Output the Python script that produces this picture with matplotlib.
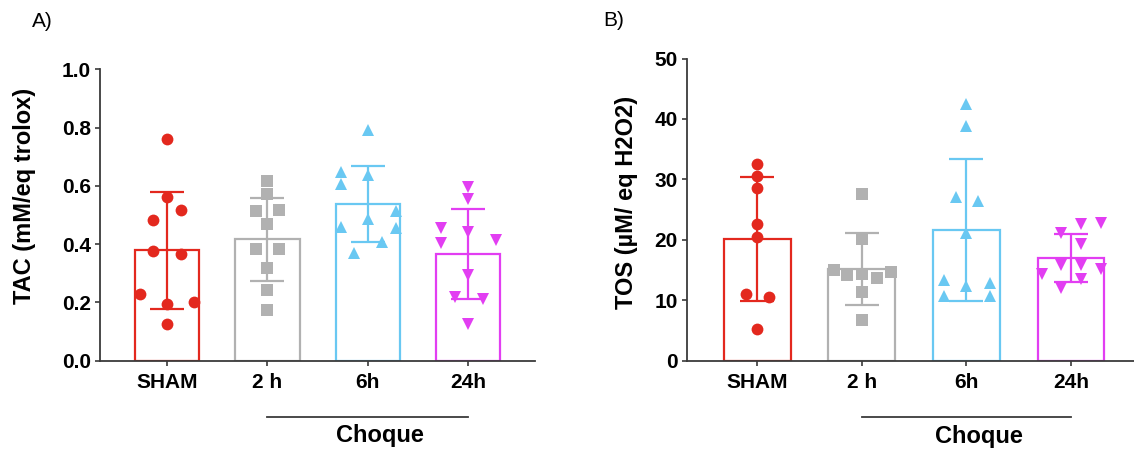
import matplotlib
matplotlib.use("Agg")
import matplotlib.pyplot as plt
import matplotlib.transforms as mtransforms

plt.rcParams['font.family'] = ['Liberation Sans', 'DejaVu Sans']

groups = ["SHAM", "2 h", "6h", "24h"]
colors = ['#e3281e', '#b1b1b1', '#69c8f2', '#e23ef2']
markers = ['o', 's', '^', 'v']

# TAC (mM/eq trolox) - individual points per group
tac_sham = [0.762, 0.562, 0.517, 0.483, 0.378, 0.367, 0.229, 0.193, 0.201, 0.125]
tac_2h = [0.618, 0.572, 0.515, 0.517, 0.469, 0.384, 0.382, 0.317, 0.243, 0.174]
tac_6h = [0.792, 0.649, 0.637, 0.606, 0.514, 0.486, 0.460, 0.454, 0.406, 0.371]
tac_24h = [0.597, 0.554, 0.457, 0.443, 0.405, 0.414, 0.294, 0.217, 0.211, 0.126]
tac_mean = [0.379, 0.416, 0.537, 0.366]
tac_sd = [0.200, 0.144, 0.130, 0.155]

# TOS (uM/ eq H2O2)
tos_sham = [32.6, 30.6, 28.6, 22.7, 20.5, 11.1, 10.6, 5.2]
tos_2h = [27.6, 20.2, 15.0, 14.2, 14.4, 13.7, 14.6, 11.3, 6.7]
tos_6h = [42.4, 38.9, 27.1, 26.5, 21.1, 13.3, 12.3, 12.8, 10.7, 10.7]
tos_24h = [22.8, 22.7, 21.2, 19.3, 15.8, 15.8, 14.4, 15.2, 13.6, 12.1]
tos_mean = [20.1, 15.2, 21.6, 17.0]
tos_sd = [10.25, 5.9, 11.8, 3.9]

# horizontal scatter offsets (layout of the dot plot)
tac_dx = [
    [0, 0, 0.14, -0.135, -0.135, 0.14, -0.27, 0, 0.273, 0],
    [0, 0, -0.113, 0.113, 0, -0.113, 0.113, 0, 0, 0],
    [0, -0.266, 0, -0.266, 0.277, 0, -0.266, 0.277, 0.142, -0.135],
    [0, 0, -0.27, 0, -0.27, 0.277, 0, -0.135, 0.142, 0],
]
tos_dx = [
    [0, 0, 0, 0, 0, -0.11, 0.11, 0],
    [0, 0, -0.265, -0.138, 0, 0.145, 0.276, 0, 0],
    [0, 0, -0.103, 0.11, 0, -0.214, 0, 0.224, -0.214, 0.224],
    [0.283, 0.097, -0.097, 0.097, -0.097, 0.097, -0.276, 0.283, 0.097, -0.097],
]

fig = plt.figure(figsize=(11.34, 4.5), dpi=100)
axA = fig.add_axes([0.0882, 0.1984, 0.3839, 0.6476])
axB = fig.add_axes([0.6056, 0.1984, 0.4011, 0.6716])


def draw(ax, pts, dxs, means, sds, ylim, yticks, yfmt, ylabel, lab_xy, xlim, choque_y):
    for i in range(4):
        ax.bar(i, means[i], width=0.64, facecolor='white', edgecolor=colors[i],
               linewidth=1.6, zorder=1)
        ax.errorbar(i, means[i], yerr=sds[i], color=colors[i], elinewidth=1.6,
                    capsize=12.5, capthick=1.6, zorder=2)
        xs = [i + d for d in dxs[i]]
        ax.plot(xs, pts[i], linestyle='none', marker=markers[i], color=colors[i],
                markersize=8.5 if markers[i] != 's' else 8, markeredgewidth=0,
                zorder=3)
    ax.set_xlim(*xlim)
    ax.set_ylim(*ylim)
    ax.set_yticks(yticks)
    ax.set_yticklabels([yfmt.format(v) for v in yticks], fontsize=15, fontweight='bold')
    ax.set_xticks(range(4))
    ax.set_xticklabels(groups, fontsize=15, fontweight='bold')
    for s in ['top', 'right']:
        ax.spines[s].set_visible(False)
    for s in ['left', 'bottom']:
        ax.spines[s].set_color('#3a3a3a')
        ax.spines[s].set_linewidth(1.3)
    ax.tick_params(axis='both', color='#3a3a3a', width=1.2, length=3.5)
    ax.tick_params(axis='x', pad=5)
    ax.tick_params(axis='y', pad=3)
    ax.set_ylabel(ylabel, fontsize=17, fontweight='bold')
    ax.yaxis.set_label_coords(*lab_xy)
    trans = mtransforms.blended_transform_factory(ax.transData, ax.transAxes)
    ax.plot([1, 3], [choque_y[0], choque_y[0]], color='#3a3a3a', linewidth=1.3,
            transform=trans, clip_on=False)
    ax.text(2.12, choque_y[1], "Choque", transform=trans, ha='center', va='center',
            fontsize=17, fontweight='bold')


draw(axA, [tac_sham, tac_2h, tac_6h, tac_24h], tac_dx, tac_mean, tac_sd,
     (0, 1.0), [0, 0.2, 0.4, 0.6, 0.8, 1.0], "{:.1f}", "TAC (mM/eq trolox)",
     (-0.147, 0.566), (-0.665, 3.667), (-0.194, -0.255))
draw(axB, [tos_sham, tos_2h, tos_6h, tos_24h], tos_dx, tos_mean, tos_sd,
     (0, 50), [0, 10, 20, 30, 40, 50], "{:d}", "TOS (µM/ eq H2O2)",
     (-0.108, 0.525), (-0.676, 3.676), (-0.187, -0.251))

fig.text(0.028, 0.953, "A)", fontsize=15, va='center', ha='left')
fig.text(0.532, 0.955, "B)", fontsize=15, va='center', ha='left')

fig.savefig("out.png", dpi=100)
